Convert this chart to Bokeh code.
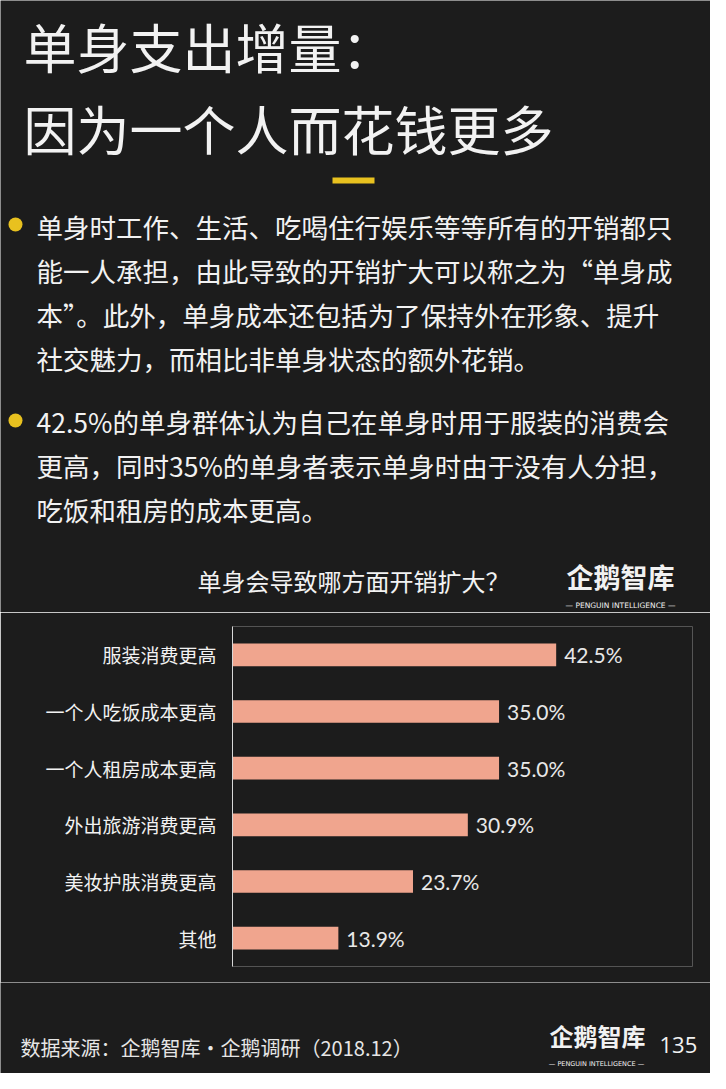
from bokeh.plotting import figure
from bokeh.layouts import column
from bokeh.models import Range1d, FactorRange, ColumnDataSource
from bokeh.core.properties import value
from bokeh.embed import file_html
from bokeh.resources import INLINE

# ---------------- data ----------------
title_lines = ["单身支出增量：", "因为一个人而花钱更多"]
bullet1_lines = [
    "单身时工作、生活、吃喝住行娱乐等等所有的开销都只",
    "能一人承担，由此导致的开销扩大可以称之为“单身成",
    "本”。此外，单身成本还包括为了保持外在形象、提升",
    "社交魅力，而相比非单身状态的额外花销。",
]
bullet2_lines = [
    "42.5%的单身群体认为自己在单身时用于服装的消费会",
    "更高，同时35%的单身者表示单身时由于没有人分担，",
    "吃饭和租房的成本更高。",
]
chart_title = "单身会导致哪方面开销扩大？"
categories = ["服装消费更高", "一个人吃饭成本更高", "一个人租房成本更高",
              "外出旅游消费更高", "美妆护肤消费更高", "其他"]
values = [42.5, 35.0, 35.0, 30.9, 23.7, 13.9]
value_labels = [f"{v:.1f}%" for v in values]
source_note = "数据来源：企鹅智库·企鹅调研（2018.12）"
brand = "企鹅智库"
brand_sub = "— PENGUIN INTELLIGENCE —"
page_no = "135"

# ---------------- style ----------------
BG = "#1c1c1c"
CJK = "Noto Sans CJK SC"
WHITE = "#f2f2f2"
YELLOW = "#e8c11f"
BAR = "#f0a58e"


def clean(p):
    p.xgrid.grid_line_color = None
    p.ygrid.grid_line_color = None
    p.outline_line_color = None
    p.frame_align = False
    return p


def canvas(h, y0):
    p = figure(width=710, height=h, x_range=Range1d(8, 718), y_range=Range1d(y0 + h, y0),
               output_backend="svg", toolbar_location=None,
               x_axis_location=None, y_axis_location=None,
               min_border=0, background_fill_color=BG, border_fill_color=BG)
    return clean(p)


# ---------------- top: headline & bullets ----------------
pa = canvas(612, 8)
pa.text(x=[31, 31], y=[53, 135], text=title_lines, text_font=value(CJK),
        text_font_size="53px", text_color=WHITE, text_baseline="middle")
pa.quad(left=[340], right=[382], top=[185], bottom=[191], color=YELLOW, line_color=None)

pa.scatter(x=[23, 23], y=[232, 428], size=14, color=YELLOW, line_color=None)
pa.text(x=[44] * len(bullet1_lines), y=[234, 278, 322, 366], text=bullet1_lines,
        text_font=value(CJK), text_font_size="26.5px", text_color=WHITE, text_baseline="middle")
pa.text(x=[44] * len(bullet2_lines), y=[429, 473, 517], text=bullet2_lines,
        text_font=value(CJK), text_font_size="26.5px", text_color=WHITE, text_baseline="middle")

pa.text(x=[205], y=[588], text=[chart_title], text_font=value(CJK),
        text_font_size="24px", text_color=WHITE, text_baseline="middle")
pa.text(x=[628], y=[584], text=[brand], text_font=value(CJK), text_font_style="bold",
        text_font_size="27px", text_color=WHITE, text_baseline="middle", text_align="center")
pa.text(x=[628], y=[613], text=[brand_sub], text_font=value("DejaVu Sans"),
        text_font_size="7.5px", text_color=WHITE, text_baseline="middle", text_align="center")

# ---------------- middle: bar chart ----------------
src = ColumnDataSource(dict(cats=categories, vals=values, labels=value_labels))
pb = figure(width=710, height=370, y_range=FactorRange(*categories[::-1]),
            x_range=Range1d(0, 60.4), x_axis_location=None, y_axis_location="left",
            output_backend="svg", toolbar_location=None,
            min_border_left=232, min_border_right=18, min_border_top=14, min_border_bottom=16,
            background_fill_color=BG, border_fill_color=BG)
clean(pb)
pb.hbar(y="cats", left=0, right="vals", height=0.4, source=src, color=BAR, line_color=None)
pb.text(x="vals", y="cats", text="labels", source=src, x_offset=8,
        text_font=value("Lato"), text_font_size="21px", text_color="#e8e8e8",
        text_baseline="middle")
ax = pb.yaxis[0]
ax.major_label_text_font = CJK
ax.major_label_text_font_size = "19px"
ax.major_label_text_color = WHITE
ax.axis_line_color = "#d8d8d8"
ax.axis_line_width = 1
ax.major_tick_line_color = None
ax.minor_tick_line_color = None
ax.major_tick_out = 0
ax.major_tick_in = 0
ax.major_label_standoff = 16

# ---------------- bottom: footer ----------------
pc = canvas(91, 990)
pc.text(x=[28], y=[1055], text=[source_note], text_font=value(CJK),
        text_font_size="20px", text_color="#e6e6e6", text_baseline="middle")
pc.text(x=[605], y=[1043], text=[brand], text_font=value(CJK), text_font_style="bold",
        text_font_size="24px", text_color=WHITE, text_baseline="middle", text_align="center")
pc.text(x=[604], y=[1071], text=[brand_sub], text_font=value("DejaVu Sans"),
        text_font_size="6.5px", text_color=WHITE, text_baseline="middle", text_align="center")
pc.text(x=[667], y=[1052], text=[page_no], text_font=value("Open Sans"),
        text_font_size="22px", text_color=WHITE, text_baseline="middle")

layout = column(pa, pb, pc, spacing=0)
open("out.html", "w").write(file_html(layout, INLINE))
